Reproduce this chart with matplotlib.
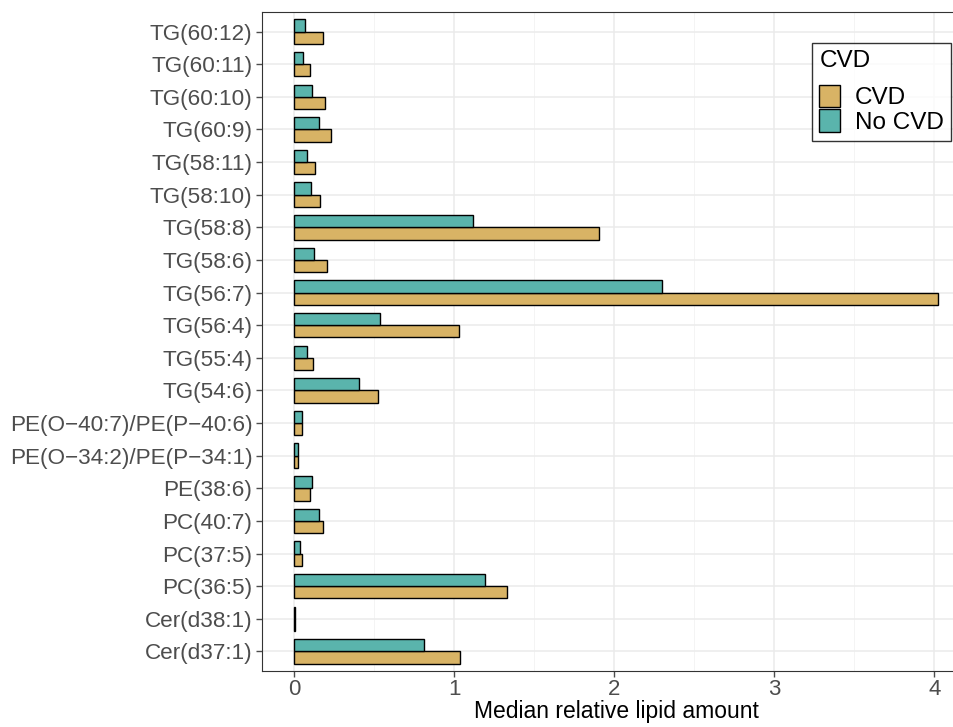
import numpy as np
import matplotlib
matplotlib.use("Agg")
import matplotlib.pyplot as plt
from matplotlib.patches import Patch

plt.rcParams['font.family'] = ['Liberation Sans', 'DejaVu Sans']

# lipids, bottom to top
lipids = ["Cer(d37:1)", "Cer(d38:1)", "PC(36:5)", "PC(37:5)", "PC(40:7)", "PE(38:6)",
          "PE(O\u221234:2)/PE(P\u221234:1)", "PE(O\u221240:7)/PE(P\u221240:6)",
          "TG(54:6)", "TG(55:4)", "TG(56:4)", "TG(56:7)", "TG(58:6)", "TG(58:8)",
          "TG(58:10)", "TG(58:11)", "TG(60:9)", "TG(60:10)", "TG(60:11)", "TG(60:12)"]
cvd = [1.039, 0.008, 1.332, 0.051, 0.182, 0.101, 0.022, 0.047,
       0.527, 0.117, 1.033, 4.025, 0.209, 1.906,
       0.165, 0.130, 0.230, 0.192, 0.103, 0.180]
no_cvd = [0.814, 0.006, 1.195, 0.039, 0.157, 0.113, 0.022, 0.047,
          0.409, 0.082, 0.540, 2.300, 0.128, 1.120,
          0.105, 0.080, 0.155, 0.111, 0.055, 0.070]
xticks = [0, 1, 2, 3, 4]

col_cvd = "#D8B365"
col_no = "#5AB4AC"

fig = plt.figure(figsize=(9.54, 7.27), dpi=100)
# panel runs past the right edge, as in the cropped original
ax = fig.add_axes([262/954, 56/727, (971-262)/954, (671-12)/727])

y = np.arange(len(lipids))
h = 0.375
ax.barh(y - h/2, cvd, height=h, color=col_cvd, edgecolor="black", linewidth=1, zorder=3)
ax.barh(y + h/2, no_cvd, height=h, color=col_no, edgecolor="black", linewidth=1, zorder=3)

ax.set_xlim(-0.2, 4.23)
ax.set_ylim(-0.6, len(lipids) - 0.4)
ax.set_xticks(xticks)
ax.set_xticklabels([str(t) for t in xticks])
ax.set_xticks(np.arange(0.5, 4.5, 1), minor=True)
ax.set_yticks(y)
ax.set_yticklabels(lipids)

ax.grid(which='major', color="#EBEBEB", linewidth=1.1, zorder=0)
ax.grid(which='minor', axis='x', color="#F2F2F2", linewidth=0.6, zorder=0)
ax.set_axisbelow(True)
ax.tick_params(axis='y', which='major', labelsize=16.2, colors="#4D4D4D",
               length=4, width=1, pad=3, labelcolor="#4D4D4D")
ax.tick_params(axis='x', which='major', labelsize=16, colors="#4D4D4D",
               length=4, width=1, pad=2, labelcolor="#4D4D4D")
ax.tick_params(axis='x', which='minor', length=0)
for s in ax.spines.values():
    s.set_color("#333333")
    s.set_linewidth(0.8)

ax.set_xlabel("Median relative lipid amount", fontsize=16.5, color="black", labelpad=0)

handles = [Patch(facecolor=col_cvd, edgecolor="black", linewidth=1, label="CVD"),
           Patch(facecolor=col_no, edgecolor="black", linewidth=1, label="No CVD")]
leg = fig.legend(handles=handles, title="CVD", loc="upper left",
                 bbox_to_anchor=(812/954, 1 - 43/727), fontsize=17.5, title_fontsize=17.5,
                 frameon=True, fancybox=False, edgecolor="black", labelspacing=0.0,
                 handlelength=0.85, handleheight=1.05, handletextpad=0.6,
                 borderpad=0.3, borderaxespad=0)
leg._legend_box.align = "left"
leg._legend_box.sep = 9
leg.get_frame().set_linewidth(1)

fig.savefig("out.png", dpi=100)
